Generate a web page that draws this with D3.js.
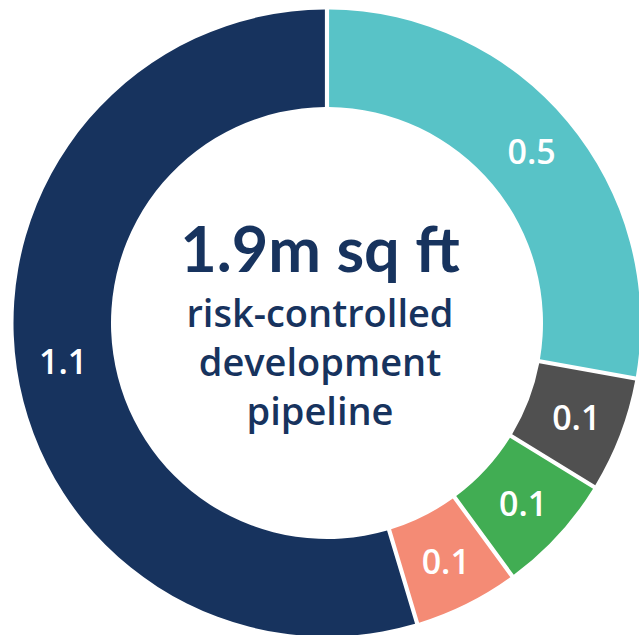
<!DOCTYPE html>
<html>
<head>
<meta charset="utf-8">
<script src="https://cdn.jsdelivr.net/npm/d3@7"></script>
<style>
  html, body { margin: 0; padding: 0; background: #ffffff; }
  svg { display: block; }
</style>
</head>
<body>
<svg id="chart" width="639" height="635"></svg>
<script>
// Development pipeline by segment (m sq ft), clockwise from 12 o'clock
const segments = ["Segment A", "Segment B", "Segment C", "Segment D", "Segment E"];
const values   = [0.54, 0.115, 0.12, 0.105, 1.06];
const colors   = ["#58c3c7", "#505050", "#41ad53", "#f48b75", "#17335e"];
const titleLines = ["risk-controlled", "development", "pipeline"];

const W = 639, H = 635;
const cx = 327, cy = 323;
const outerR = 313.5, innerR = 216;

const svg = d3.select("#chart");
const g = svg.append("g").attr("transform", `translate(${cx},${cy})`);

const data = segments.map((s, i) => ({ name: s, value: values[i], color: colors[i] }));

const pie = d3.pie().value(d => d.value).sort(null);
const arc = d3.arc()
  .innerRadius(innerR)
  .outerRadius(outerR)
  .padRadius(outerR)
  .padAngle(4.2 / outerR);

const arcs = pie(data);

g.selectAll("path.slice")
  .data(arcs)
  .join("path")
  .attr("class", "slice")
  .attr("d", arc)
  .attr("fill", d => d.data.color);

const fmt = d3.format(".1f");
const labelArc = d3.arc().innerRadius((innerR + outerR) / 2 + 2).outerRadius((innerR + outerR) / 2 + 2);

g.selectAll("text.val")
  .data(arcs)
  .join("text")
  .attr("class", "val")
  .attr("x", d => labelArc.centroid(d)[0])
  .attr("y", d => labelArc.centroid(d)[1])
  .attr("dy", "0.36em")
  .attr("text-anchor", "middle")
  .attr("fill", "#ffffff")
  .style("font-family", "'Open Sans', Lato, sans-serif")
  .style("font-weight", 600)
  .style("font-size", "34px")
  .text(d => fmt(d.data.value));

// Centre title
const total = d3.sum(values);
const title = svg.append("g").attr("transform", `translate(${cx - 7},0)`);
title.append("text")
  .attr("x", 0).attr("y", 271.5)
  .attr("text-anchor", "middle")
  .attr("fill", "#17335e")
  .style("font-family", "Lato, 'Open Sans', sans-serif")
  .style("font-weight", 700)
  .style("font-size", "63px")
  .text(`${fmt(total)}m sq ft`);

title.selectAll("text.sub")
  .data(titleLines)
  .join("text")
  .attr("class", "sub")
  .attr("x", 0)
  .attr("y", (d, i) => 326.5 + i * 49.2)
  .attr("text-anchor", "middle")
  .attr("fill", "#17335e")
  .style("font-family", "'Open Sans', Lato, sans-serif")
  .style("font-weight", 600)
  .style("font-size", "38px")
  .text(d => d);
</script>
</body>
</html>
